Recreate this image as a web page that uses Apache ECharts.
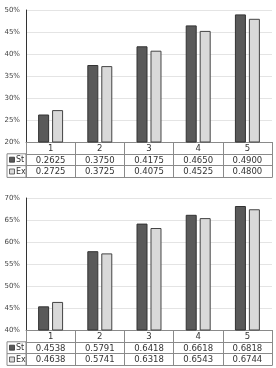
<!DOCTYPE html>
<html><head><meta charset="utf-8">
<script src="https://cdn.jsdelivr.net/npm/echarts@6/dist/echarts.min.js"></script>
<style>html,body{margin:0;padding:0;background:#fff}#c{width:276px;height:368px}</style>
</head><body><div id="c"></div>
<script>
const categories = ['1','2','3','4','5'];
const seriesNames = ['St','Ex'];
const topSt = [0.2625, 0.3750, 0.4175, 0.4650, 0.4900];
const topEx = [0.2725, 0.3725, 0.4075, 0.4525, 0.4800];
const botSt = [0.4538, 0.5791, 0.6418, 0.6618, 0.6818];
const botEx = [0.4638, 0.5741, 0.6318, 0.6543, 0.6744];
const topRange = [0.20, 0.50];
const botRange = [0.40, 0.70];

const L = 26, R = 4, H = 132, ROW = 11.8, LEGX = 7;
const tops = [10, 198];
const FONT = 'DejaVu Sans';
const stColor = '#5a5a5a', exColor = '#d9d9d9', lineC = '#8a8a8a';
const fmt = v => v.toFixed(4);

const grids = [], xAxes = [], yAxes = [], series = [], graphic = [];
const panels = [[topSt, topEx, topRange], [botSt, botEx, botRange]];
panels.forEach((p, gi) => {
  const [st, ex, rng] = p;
  grids.push({left: L, right: R, top: tops[gi], height: H});
  const base = xAxes.length;
  xAxes.push({type:'category', gridIndex: gi, data: categories, position:'bottom',
    axisLine:{show:true, lineStyle:{color: lineC, width:1}},
    axisTick:{show:true, length: ROW*3, lineStyle:{color: lineC}},
    axisLabel:{margin:2, fontSize:8.5, fontFamily:FONT, color:'#333'}});
  [st, ex].forEach((arr, k) => {
    xAxes.push({type:'category', gridIndex: gi, data: arr.map(fmt), position:'bottom', offset: ROW*(k+1),
      axisLine:{show:true, lineStyle:{color: lineC}}, axisTick:{show:false},
      axisLabel:{margin:2, fontSize:8.5, fontFamily:FONT, color:'#333'}});
  });
  xAxes.push({type:'category', gridIndex: gi, data: categories, position:'bottom', offset: ROW*3,
    axisLine:{show:true, lineStyle:{color: lineC}}, axisTick:{show:false}, axisLabel:{show:false}});
  yAxes.push({type:'value', gridIndex: gi, min: rng[0], max: rng[1], interval: 0.05,
    axisLine:{show:true, lineStyle:{color:'#333'}}, axisTick:{show:false},
    splitLine:{lineStyle:{color:'#e4e4e4'}},
    axisLabel:{margin:6, fontSize:7, fontFamily:FONT, color:'#444', formatter: v => Math.round(v*100)+'%'}});
  series.push({name: seriesNames[0], type:'bar', xAxisIndex: base, yAxisIndex: gi, data: st,
    barWidth: 11, barGap: '27%', itemStyle:{color: stColor, borderColor:'#333', borderWidth:1}, animation:false});
  series.push({name: seriesNames[1], type:'bar', xAxisIndex: base, yAxisIndex: gi, data: ex,
    barWidth: 11, barGap: '27%', itemStyle:{color: exColor, borderColor:'#444', borderWidth:1}, animation:false});
  const y0 = tops[gi] + H;
  graphic.push({type:'rect', shape:{x: LEGX, y: y0+ROW, width: L-LEGX, height: ROW*2},
    style:{fill:'none', stroke: lineC, lineWidth:1}});
  graphic.push({type:'line', shape:{x1: LEGX, y1: y0+ROW*2, x2: L, y2: y0+ROW*2}, style:{stroke: lineC}});
  seriesNames.forEach((nm, k) => {
    const cy = y0 + ROW*(k+1) + ROW/2;
    graphic.push({type:'rect', shape:{x: LEGX+2.5, y: cy-2.5, width:5, height:5},
      style:{fill: k===0 ? stColor : exColor, stroke: k===0 ? '#333' : '#444', lineWidth:0.8}});
    graphic.push({type:'text', style:{x: LEGX+9, y: cy, text: nm, fontSize:8, fontFamily:FONT, fill:'#333', verticalAlign:'middle'}});
  });
});

const chart = echarts.init(document.getElementById('c'), null, {renderer:'canvas'});
chart.setOption({animation:false, grid: grids, xAxis: xAxes, yAxis: yAxes, series: series, graphic: graphic});
</script></body></html>
